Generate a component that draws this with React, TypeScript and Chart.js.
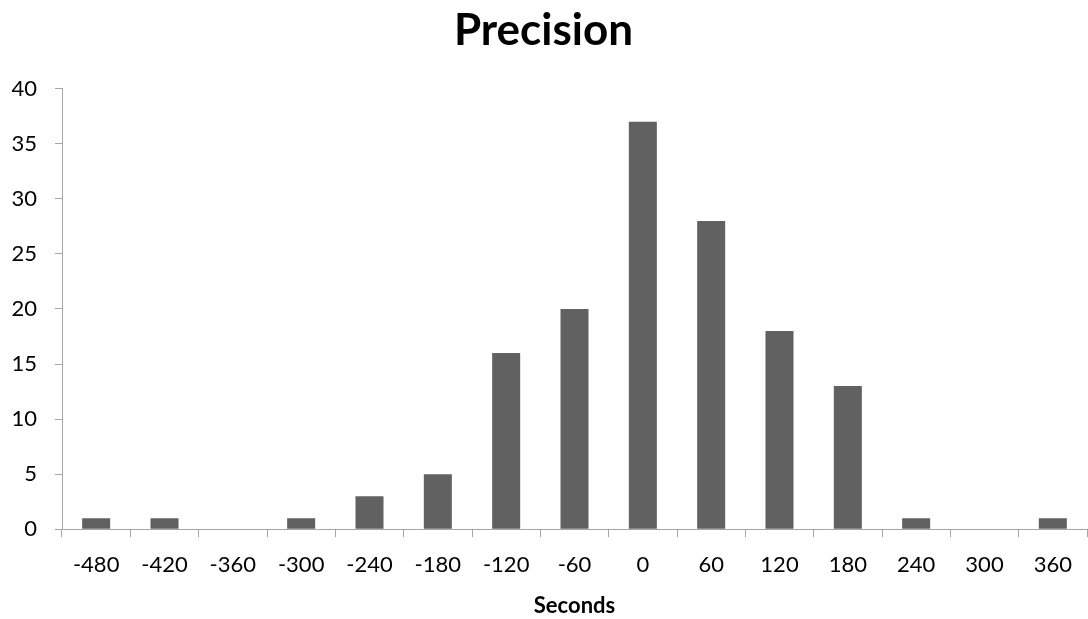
import React, { useEffect, useRef } from "react";
import { Chart, registerables } from "chart.js";

Chart.register(...registerables);

const categories = ["-480", "-420", "-360", "-300", "-240", "-180", "-120", "-60", "0", "60", "120", "180", "240", "300", "360"];
const counts = [1, 1, 0, 1, 3, 5, 16, 20, 37, 28, 18, 13, 1, 0, 1];
const yTicks = [0, 5, 10, 15, 20, 25, 30, 35, 40];

const FONT = "Lato, 'Open Sans', sans-serif";
const AXIS = "#A6A6A6";

export default function App() {
  const ref = useRef<HTMLCanvasElement | null>(null);
  useEffect(() => {
    if (!ref.current) return;
    const chart = new Chart(ref.current, {
      type: "bar",
      data: {
        labels: categories,
        datasets: [
          {
            label: "Count",
            data: counts,
            backgroundColor: "#616161",
            borderWidth: 0,
            categoryPercentage: 1,
            barPercentage: 0.41,
          },
        ],
      },
      options: {
        animation: false,
        responsive: false,
        devicePixelRatio: 1,
        layout: { padding: { left: 0, right: 1, top: 0, bottom: 0 } },
        plugins: {
          legend: { display: false },
          tooltip: { enabled: false },
          title: {
            display: true,
            text: "Precision",
            color: "#000",
            font: { family: FONT, size: 44, weight: "bold" },
            padding: { top: 4, bottom: 32 },
          },
        },
        scales: {
          x: {
            grid: {
              display: true,
              drawOnChartArea: false,
              drawTicks: true,
              tickLength: 8,
              color: AXIS,
              offset: true,
            },
            border: { color: AXIS, width: 1 },
            ticks: {
              color: "#000",
              font: { family: FONT, size: 22 },
              padding: 15,
              maxRotation: 0,
              autoSkip: false,
            },
            title: {
              display: true,
              text: "Seconds",
              color: "#000",
              font: { family: FONT, size: 22, weight: "bold" },
              padding: { top: -1, bottom: 0 },
            },
          },
          y: {
            min: 0,
            max: 40,
            afterBuildTicks: (axis: any) => {
              axis.ticks = yTicks.map((v) => ({ value: v }));
            },
            afterFit: (axis: any) => {
              axis.width = 62;
            },
            grid: {
              display: true,
              drawOnChartArea: false,
              drawTicks: true,
              tickLength: 7,
              color: AXIS,
            },
            border: { color: AXIS, width: 1 },
            ticks: {
              color: "#000",
              font: { family: FONT, size: 22 },
              padding: 18,
            },
          },
        },
      },
    });
    return () => chart.destroy();
  }, []);
  return (
    <div style={{ position: "fixed", left: 0, top: 0, width: 1088, height: 619, background: "#fff" }}>
      <canvas ref={ref} width={1088} height={619} style={{ width: 1088, height: 619 }} />
    </div>
  );
}
